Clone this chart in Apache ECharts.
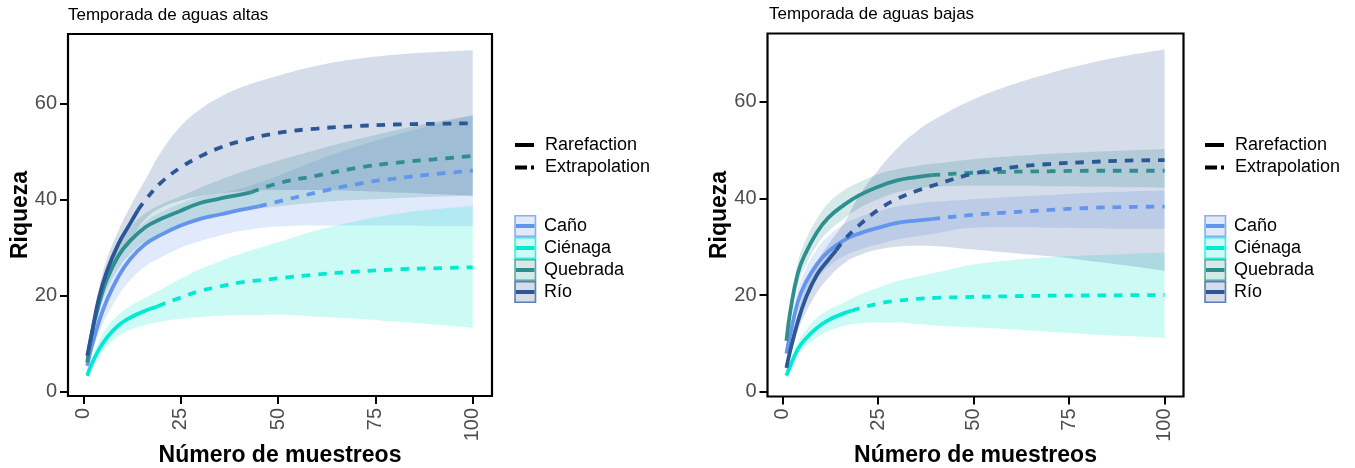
<!DOCTYPE html>
<html><head><meta charset="utf-8">
<script src="https://cdn.jsdelivr.net/npm/echarts@6/dist/echarts.min.js"></script>
<style>html,body{margin:0;padding:0;background:#fff}#c{width:1355px;height:468px}</style>
</head><body><div id="c"></div>
<script>
// ---------- data ----------
const samples = [1, 2, 4, 6, 9, 12, 16, 20, 25, 30, 35, 40, 50, 60, 70, 80, 90, 100];
const sites = ['Caño', 'Ciénaga', 'Quebrada', 'Río'];
const siteColors = ['#6495ED', '#00EAD3', '#2F8F8F', '#2B5797'];
const xTicks = [0, 25, 50, 75, 100];
const yTicks = [0, 20, 40, 60];
const panelTitles = ['Temporada de aguas altas', 'Temporada de aguas bajas'];
const lineTypeLabels = ['Rarefaction', 'Extrapolation'];

// Temporada de aguas altas
const altasN   = [45, 19, 43, 14];
const altasObs = [38.6, 17.7, 41.5, 37.8];
const altasCanoEst = [5.4, 9, 14.6, 19, 24, 27.6, 30.8, 32.7, 34.6, 36, 36.9, 37.8, 39.6, 41.5, 43.2, 44.4, 45.3, 46.05];
const altasCanoLo  = [4.5, 7.6, 12.2, 15.8, 20, 23.2, 26.2, 28, 30, 31.4, 32.5, 33.4, 34.4, 34.6, 34.6, 34.6, 34.5, 34.5];
const altasCanoHi  = [6.3, 10.4, 17, 22.2, 28, 32, 35.4, 37.4, 39.2, 40.6, 41.3, 42.2, 45, 48.2, 51, 53.4, 55.6, 57.5];
const altasCienEst = [3.3, 5.5, 8.8, 11.2, 13.8, 15.4, 16.9, 18.1, 19.6, 21.0, 21.9, 22.7, 23.6, 24.4, 25.0, 25.45, 25.7, 25.9];
const altasCienLo  = [2.8, 4.5, 7.3, 9.3, 11.6, 12.9, 13.9, 14.6, 15.2, 15.5, 15.8, 15.9, 16, 15.6, 15.2, 14.6, 14, 13.3];
const altasCienHi  = [4, 6.5, 10.5, 13.3, 16, 17.8, 19.6, 21.3, 23.5, 25.5, 27.1, 28.6, 31.1, 33.6, 35.5, 37, 38, 38.7];
const altasQuebEst = [6.1, 11.5, 18.3, 23.3, 28.3, 31.4, 34.3, 36.0, 37.7, 39.3, 40.2, 41.0, 43.4, 45.0, 46.6, 47.65, 48.4, 49.1];
const altasQuebLo  = [5.2, 10, 16.4, 21, 25.6, 28.6, 31.4, 33, 34.7, 36.1, 36.9, 37.6, 38.6, 39.4, 39.9, 40.3, 40.6, 40.8];
const altasQuebHi  = [7, 12.8, 20.2, 25.6, 31, 34.2, 37.2, 39, 40.7, 42.5, 44.1, 45.6, 48.1, 50.4, 52.5, 54.4, 56.1, 57.6];
const altasRioEst  = [7.5, 11.5, 19.5, 25, 30.8, 35, 40.0, 43.6, 46.7, 49.0, 50.8, 52.1, 53.9, 54.8, 55.3, 55.65, 55.8, 55.9];
const altasRioLo   = [6.7, 10, 17.5, 22.5, 27.5, 31.5, 36, 38.3, 39.8, 40.7, 41.3, 41.7, 42, 42, 41.8, 41.5, 41.2, 40.8];
const altasRioHi   = [8.3, 13, 21.5, 27.5, 33.5, 38.5, 44.3, 50, 55.3, 58.8, 61.3, 63.2, 65.8, 67.9, 69.3, 70.2, 70.7, 71.1];

// Temporada de aguas bajas
const bajasN   = [39, 18, 39, 14];
const bajasObs = [35.7, 16.7, 44.8, 29.2];
const bajasCanoEst = [7.9, 11.8, 18.6, 22.5, 26.4, 29, 31.3, 32.7, 33.9, 34.9, 35.4, 35.8, 36.6, 37.1, 37.6, 38.0, 38.2, 38.3];
const bajasCanoLo  = [7, 10.3, 16.4, 19.8, 23.3, 25.8, 28, 29.3, 30.5, 31.5, 32.1, 32.7, 33.9, 34, 33.9, 33.8, 33.7, 33.7];
const bajasCanoHi  = [8.8, 13.3, 20.8, 25.2, 29.5, 32.2, 34.6, 36.1, 37.3, 38.3, 38.9, 39.3, 39.8, 40.3, 40.7, 41.1, 41.4, 41.6];
const bajasCienEst = [3.3, 5.3, 8.8, 10.9, 13.2, 14.8, 16.2, 17.2, 18.2, 18.8, 19.2, 19.4, 19.6, 19.75, 19.85, 19.9, 19.95, 20];
const bajasCienLo  = [2.7, 4.3, 7.4, 9.2, 11.2, 12.5, 13.6, 14.1, 14.3, 14.3, 14, 13.7, 13.3, 12.9, 12.4, 11.9, 11.5, 11.1];
const bajasCienHi  = [3.9, 6.3, 10.2, 12.6, 15.3, 16.9, 18.4, 20, 21.5, 22.9, 23.8, 24.6, 26.3, 27.2, 27.8, 28.2, 28.5, 28.8];
const bajasQuebEst = [10.5, 16.5, 24.5, 28.6, 33, 36, 38.6, 40.6, 42.4, 43.7, 44.4, 44.85, 45.3, 45.5, 45.6, 45.7, 45.7, 45.7];
const bajasQuebLo  = [9.6, 15, 22.2, 26, 30.3, 33.2, 35.8, 37.9, 39.8, 41.2, 42, 42.4, 42.6, 42.6, 42.5, 42.4, 42.3, 42.2];
const bajasQuebHi  = [11.4, 18, 26.8, 31.3, 35.8, 39, 41.6, 43.3, 45, 46, 46.7, 47.2, 48.1, 48.7, 49.2, 49.6, 49.9, 50.2];
const bajasRioEst  = [4.9, 8.5, 14.5, 19.2, 24.2, 27.3, 31.3, 34.4, 37.6, 39.9, 41.5, 42.8, 45.1, 46.4, 47.1, 47.5, 47.8, 47.9];
const bajasRioLo   = [4, 7.2, 12.5, 16.2, 20.5, 23.5, 26.5, 28.2, 29.4, 30, 30.2, 30.1, 29.4, 28.7, 28.0, 27.1, 26.1, 25.0];
const bajasRioHi   = [5.8, 9.8, 16.5, 21.5, 26.8, 30.5, 34.8, 40.5, 45.8, 50.3, 53.8, 56.4, 60.5, 63.5, 65.9, 67.9, 69.5, 70.8];

// ---------- chart ----------
const FONT = '"Liberation Sans", Arial, Helvetica, sans-serif';
function rgba(hex, a) {
  const v = parseInt(hex.slice(1), 16);
  return 'rgba(' + (v >> 16 & 255) + ',' + (v >> 8 & 255) + ',' + (v & 255) + ',' + a + ')';
}
const panels = [
  { grid: { left: 68, top: 34, width: 424, height: 362 }, ymin: -0.9, ymax: 74.5,
    est: [altasCanoEst, altasCienEst, altasQuebEst, altasRioEst],
    lo: [altasCanoLo, altasCienLo, altasQuebLo, altasRioLo],
    hi: [altasCanoHi, altasCienHi, altasQuebHi, altasRioHi],
    n: altasN, obs: altasObs, titleX: 68, titleY: 17, legX: 515 },
  { grid: { left: 767.5, top: 33.5, width: 416, height: 363 }, ymin: -1.0, ymax: 74.1,
    est: [bajasCanoEst, bajasCienEst, bajasQuebEst, bajasRioEst],
    lo: [bajasCanoLo, bajasCienLo, bajasQuebLo, bajasRioLo],
    hi: [bajasCanoHi, bajasCienHi, bajasQuebHi, bajasRioHi],
    n: bajasN, obs: bajasObs, titleX: 769, titleY: 16, legX: 1205 }
];

const SMOOTH = 0.45;
const grids = [], xAxes = [], yAxes = [], series = [], graphics = [];
panels.forEach((p, g) => {
  grids.push(Object.assign({ show: true, borderColor: '#000', borderWidth: 2.2, backgroundColor: 'transparent',
    containLabel: false, outerBoundsMode: 'none' }, p.grid));
  xAxes.push({
    gridIndex: g, type: 'value', min: -3.95, max: 104.95,
    axisLine: { show: false, onZero: false }, splitLine: { show: false },
    axisTick: { show: true, customValues: xTicks, length: 8, lineStyle: { color: '#000', width: 2 } },
    axisLabel: { customValues: xTicks, rotate: 90, fontSize: 20, color: '#4D4D4D', margin: 12, fontFamily: FONT },
    name: 'Número de muestreos', nameLocation: 'middle', nameGap: 48, nameMoveOverlap: false,
    nameTextStyle: { fontSize: 23, fontWeight: 'bold', color: '#000', fontFamily: FONT }
  });
  yAxes.push({
    gridIndex: g, type: 'value', min: p.ymin, max: p.ymax,
    axisLine: { show: false, onZero: false }, splitLine: { show: false },
    axisTick: { show: true, customValues: yTicks, length: 8, lineStyle: { color: '#000', width: 2 } },
    axisLabel: { customValues: yTicks, fontSize: 20, color: '#4D4D4D', margin: 11, fontFamily: FONT },
    name: 'Riqueza', nameLocation: 'middle', nameGap: 36, nameMoveOverlap: false,
    nameTextStyle: { fontSize: 23, fontWeight: 'bold', color: '#000', fontFamily: FONT }
  });
  // ribbons: data stored as [value, x] so that the stacked dimension is the y value
  sites.forEach((s, i) => {
    const stackId = 'band' + g + '_' + i;
    const common = { type: 'line', xAxisIndex: g, yAxisIndex: g, stack: stackId, symbol: 'none',
      encode: { x: 1, y: 0 }, smooth: SMOOTH, silent: true, lineStyle: { opacity: 0, width: 0 }, z: 1 };
    series.push(Object.assign({}, common, { data: samples.map((x, k) => [p.lo[i][k], x]) }));
    series.push(Object.assign({}, common, {
      data: samples.map((x, k) => [p.hi[i][k] - p.lo[i][k], x]),
      areaStyle: { color: rgba(siteColors[i], 0.2), opacity: 1 }
    }));
  });
  // curves
  sites.forEach((s, i) => {
    const n = p.n[i], obs = p.obs[i], est = p.est[i];
    const rare = samples.map((x, k) => [x, est[k]]).filter(d => d[0] < n);
    rare.push([n, obs]);
    const extra = [[n, obs]].concat(samples.map((x, k) => [x, est[k]]).filter(d => d[0] > n));
    const common = { type: 'line', xAxisIndex: g, yAxisIndex: g, symbol: 'none', smooth: SMOOTH,
      silent: true, z: 3 };
    series.push(Object.assign({}, common, { name: s, data: rare,
      lineStyle: { color: siteColors[i], width: 3.8, cap: 'butt' } }));
    series.push(Object.assign({}, common, { name: s, data: extra,
      lineStyle: { color: siteColors[i], width: 3.8, type: [8.5, 8], cap: 'butt' } }));
  });
  // title
  graphics.push({ type: 'text', left: p.titleX, top: p.titleY - 10,
    style: { text: panelTitles[g], font: '17px ' + FONT, fill: '#000' } });
  // linetype legend
  const lx = p.legX;
  [145, 167.5].forEach((yy, j) => {
    graphics.push({ type: 'line', shape: { x1: lx, y1: yy, x2: lx + 19, y2: yy },
      style: { stroke: '#000', lineWidth: 4, lineDash: j ? [12, 4] : null } });
    graphics.push({ type: 'text', x: lx + 30, y: yy,
      style: { text: lineTypeLabels[j], font: '18px ' + FONT, fill: '#000', textVerticalAlign: 'middle', verticalAlign: 'middle' } });
  });
  // fill legend
  sites.forEach((s, i) => {
    const top = 215 + i * 22;
    graphics.push({ type: 'rect', shape: { x: lx, y: top + 0.8, width: 20.5, height: 20.5 },
      style: { fill: rgba(siteColors[i], 0.2), stroke: rgba(siteColors[i], 0.75), lineWidth: 1.6 } });
    graphics.push({ type: 'line', shape: { x1: lx + 1, y1: top + 11, x2: lx + 19.5, y2: top + 11 },
      style: { stroke: siteColors[i], lineWidth: 4 } });
    graphics.push({ type: 'text', x: lx + 29, y: top + 11,
      style: { text: s, font: '18px ' + FONT, fill: '#000', textVerticalAlign: 'middle', verticalAlign: 'middle' } });
  });
});

const chart = echarts.init(document.getElementById('c'), null, { renderer: 'canvas' });
chart.setOption({
  animation: false,
  backgroundColor: '#fff',
  textStyle: { fontFamily: FONT },
  grid: grids, xAxis: xAxes, yAxis: yAxes, series: series,
  graphic: { elements: graphics }
});
</script>
</body></html>
